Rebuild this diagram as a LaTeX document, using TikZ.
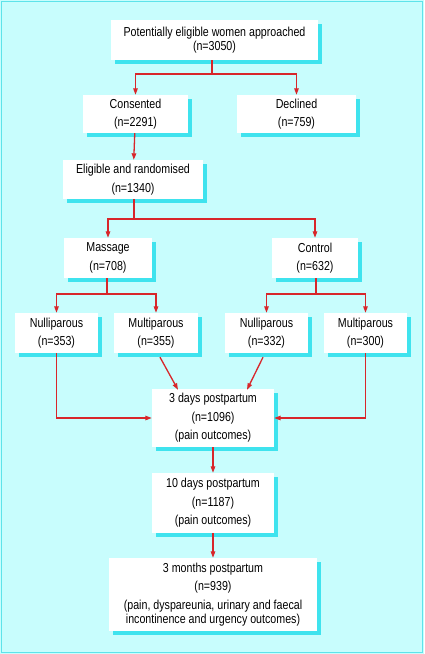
\documentclass[tikz,border=0pt]{standalone}
\usepackage{fontspec}
\setmainfont[FakeStretch=0.82]{Liberation Sans}
\usetikzlibrary{arrows.meta, shadows, calc}
\definecolor{pagecyan}{HTML}{C8FDFD}
\definecolor{rimcyan}{HTML}{5EE3EA}
\definecolor{shadecyan}{HTML}{3FE3EE}
\definecolor{flowred}{HTML}{D8262A}

\begin{document}
\begin{tikzpicture}[
      x=1pt, y=-1pt,
      box/.style={fill=white, inner sep=1pt, align=center,
        font=\fontsize{13}{18.5}\selectfont,
        drop shadow={shadow xshift=4pt, shadow yshift=-4pt, fill=shadecyan, opacity=1}},
      arr/.style={draw=flowred, line width=1.3pt, -{Triangle[length=6.5pt, width=4.5pt]}}
    ]
    \fill[pagecyan] (0,0) rectangle (424,654);
    \draw[rimcyan, line width=1.6pt] (1.6,1.6) rectangle (422.4,652.4);
    \useasboundingbox (0,0) rectangle (424,654);

    % enrolment
    \node[box, minimum width=207pt, minimum height=40pt] (appr) at (214.5,40) {Potentially eligible women approached\\[-4pt](n=3050)};
    \node[box, minimum width=105pt, minimum height=38pt] (cons) at (135.5,114) {Consented\\(n=2291)};
    \node[box, minimum width=119pt, minimum height=38pt] (decl) at (296.5,114) {Declined\\(n=759)};
    \node[box, minimum width=140pt, minimum height=39pt] (rand) at (133,179.5) {Eligible and randomised\\(n=1340)};

    % groups
    \node[box, minimum width=88pt, minimum height=40pt] (mass) at (108,258) {Massage\\(n=708)};
    \node[box, minimum width=86pt, minimum height=40pt] (ctrl) at (315,258) {Control\\(n=632)};
    \node[box, minimum width=83pt, minimum height=40pt] (mnul) at (56.5,333) {Nulliparous\\(n=353)};
    \node[box, minimum width=84pt, minimum height=40pt] (mmul) at (156,333) {Multiparous\\(n=355)};
    \node[box, minimum width=83pt, minimum height=40pt] (cnul) at (266.5,333) {Nulliparous\\(n=332)};
    \node[box, minimum width=83pt, minimum height=40pt] (cmul) at (365.5,333) {Multiparous\\(n=300)};

    % follow up
    \node[box, minimum width=122pt, minimum height=58pt] (day3) at (213,418) {3 days postpartum\\(n=1096)\\(pain outcomes)};
    \node[box, minimum width=122pt, minimum height=60pt] (day10) at (213,503) {10 days postpartum\\(n=1187)\\(pain outcomes)};
    \node[box, minimum width=208pt, minimum height=73pt] (mon3) at (213,594.5) {3 months postpartum\\(n=939)\\(pain, dyspareunia, urinary and faecal\\[-4pt]incontinence and urgency outcomes)};

    \coordinate (sp1) at (212,74);
    \coordinate (sp2) at (134,219);
    \coordinate (sp3) at (107,294);
    \coordinate (sp4) at (316,294);
    \draw[arr] (appr.south -| sp1) -- (sp1) -| (cons.north);
    \draw[arr] (sp1) -| (decl.north);
    \draw[arr] (cons) -- (rand);
    \draw[arr] (rand.south -| sp2) -- (sp2) -| (mass.north);
    \draw[arr] (sp2) -| (ctrl.north);
    \draw[arr] (mass.south -| sp3) -- (sp3) -| (mnul.north);
    \draw[arr] (sp3) -| (mmul.north);
    \draw[arr] (ctrl.south -| sp4) -- (sp4) -| (cnul.north);
    \draw[arr] (sp4) -| (cmul.north);
    \draw[arr] (mnul) |- (day3);
    \draw[arr] (cmul) |- (day3);
    \draw[arr] ([xshift=4pt, yshift=-4pt]mmul.south) -- ([xshift=-35pt, yshift=-1pt]day3.north);
    \draw[arr] ([xshift=-3.5pt, yshift=-4pt]cnul.south) -- ([xshift=34pt, yshift=-1pt]day3.north);
    \draw[arr] (day3) -- (day10);
    \draw[arr] (day10) -- (mon3);
  \end{tikzpicture}
\end{document}
